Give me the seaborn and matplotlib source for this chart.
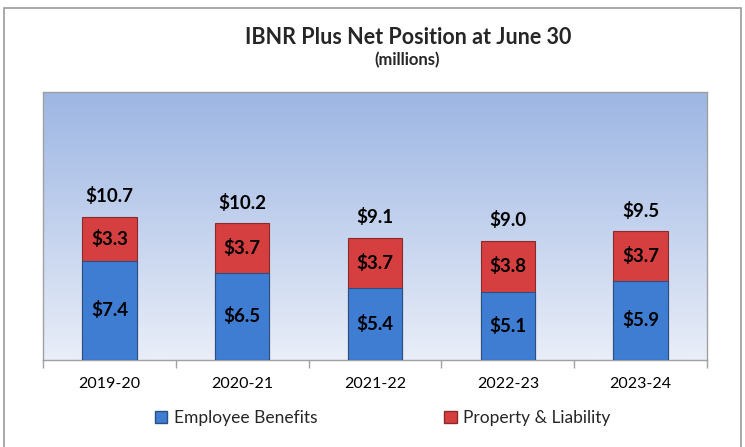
import numpy as np
import pandas as pd
import matplotlib
matplotlib.use("Agg")
import matplotlib.pyplot as plt
from matplotlib.patches import Patch, Rectangle
from matplotlib.colors import LinearSegmentedColormap
import seaborn as sns

years = ["2019-20", "2020-21", "2021-22", "2022-23", "2023-24"]
employee = [7.4, 6.5, 5.4, 5.1, 5.9]
property_liab = [3.3, 3.7, 3.7, 3.8, 3.7]
totals = [10.7, 10.2, 9.1, 9.0, 9.5]

sns.set_theme(style="white")
plt.rcParams["font.family"] = ["Lato", "DejaVu Sans"]

df = pd.DataFrame({"year": years, "emp": employee, "prop": property_liab})
df["stack"] = df["emp"] + df["prop"]

fig = plt.figure(figsize=(7.45, 4.47), dpi=100)
ax = fig.add_axes([43/745, 87/447, 664/745, 268/447])

blue = "#3e7dd1"
red = "#d63f3f"

# gradient background
grad = np.linspace(0, 1, 256).reshape(-1, 1)
cmap = LinearSegmentedColormap.from_list("bg", ["#e9eef8", "#9db6e3"])
ax.imshow(grad, extent=(-0.5, 4.5, 0, 20), origin="lower", cmap=cmap,
          aspect="auto", zorder=0)

sns.barplot(data=df, x="year", y="stack", color=red, width=0.41,
            edgecolor="#8a2a2a", linewidth=0.8, saturation=1, ax=ax, zorder=2)
sns.barplot(data=df, x="year", y="emp", color=blue, width=0.41,
            edgecolor="#2a4f80", linewidth=0.8, saturation=1, ax=ax, zorder=3)

ax.set_xlim(-0.5, 4.5)
ax.set_ylim(0, 20)
ax.set_xlabel("")
ax.set_ylabel("")
ax.set_yticks([])

for i in range(len(years)):
    e = employee[i]; p = property_liab[i]
    ax.text(i, e / 2, f"${e:.1f}", ha="center", va="center", fontsize=13.5,
            fontweight="bold", color="black", zorder=5)
    ax.text(i, e + p / 2, f"${p:.1f}", ha="center", va="center", fontsize=13.5,
            fontweight="bold", color="black", zorder=5)
    ax.text(i, e + p + 1.55, f"${totals[i]:.1f}", ha="center", va="center",
            fontsize=13.5, fontweight="bold", color="black", zorder=5)

for s in ax.spines.values():
    s.set_color("#a0a0a0")
    s.set_linewidth(1.0)

ax.set_xticks(np.arange(-0.5, 5, 1), minor=True)
ax.tick_params(axis="x", which="minor", length=6, color="#a0a0a0", width=1,
               direction="out", bottom=True)
ax.tick_params(axis="x", which="major", length=0, pad=12, labelsize=11.5,
               labelcolor="black")

fig.text(0.548, 1 - 37/447, "IBNR Plus Net Position at June 30", ha="center",
         va="center", fontsize=15.5, fontweight="bold")
fig.text(0.547, 1 - 60/447, "(millions)", ha="center", va="center",
         fontsize=12, fontweight="bold")

handles = [Patch(facecolor=blue, edgecolor="#2a4f80", label="Employee Benefits"),
           Patch(facecolor=red, edgecolor="#8a2a2a", label="Property & Liability")]
fig.legend(handles=handles, loc="center", bbox_to_anchor=(0.514, 1 - 418/447),
           ncol=2, frameon=False, fontsize=12.5, columnspacing=7.3,
           handlelength=0.7, handleheight=0.7, handletextpad=0.4)

fig.patches.append(Rectangle((4/745, -0.05), 737/745, 1.05 - 8/447,
                             transform=fig.transFigure, fill=False,
                             edgecolor="#9a9a9a", linewidth=1.2))

fig.savefig("out.png", dpi=100)
